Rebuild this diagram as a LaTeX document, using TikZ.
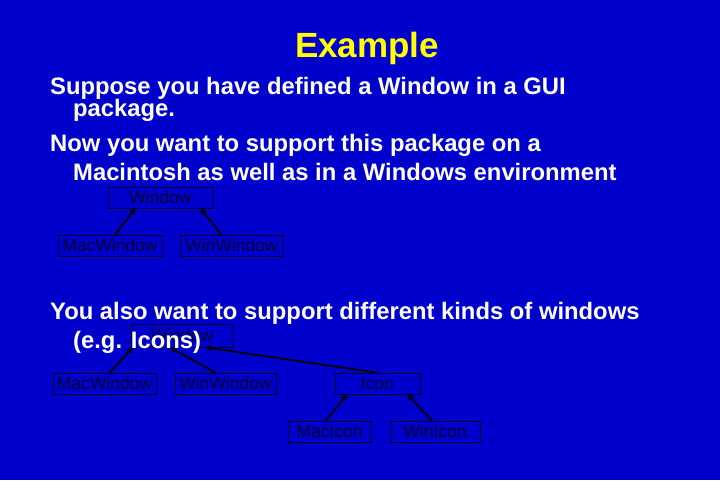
\documentclass[tikz,border=0pt]{standalone}
\usepackage{fontspec}
\setmainfont{Liberation Sans}
\usetikzlibrary{arrows.meta}
\definecolor{slidebg}{RGB}{0,0,205}
\definecolor{slidetitle}{RGB}{255,255,0}
\definecolor{boxtext}{RGB}{0,0,50}
\tikzset{
  cls/.style={draw=black!85!blue,semithick,minimum height=21pt,inner sep=1pt,
    text=boxtext,font=\fontsize{17.5}{17.5}\selectfont},
  inh/.style={line width=2pt,draw=black!90!blue,-{Triangle[length=6pt,width=6pt]}},
  para/.style={anchor=base west,text=white,inner sep=0pt,
    font=\fontsize{23.8}{23.8}\bfseries\selectfont}
}
\begin{document}
\begin{tikzpicture}[x=1pt,y=-1pt]
\fill[slidebg] (0,0) rectangle (720,480);
\useasboundingbox (0,0) rectangle (720,480);
\node[text=slidetitle,font=\fontsize{35}{35}\bfseries\selectfont] (title) at (367,48) {Example};
% first paragraph
\node[para] (l1) at (50,94) {Suppose you have defined a Window in a GUI};
\node[para] (l2) at (73,116) {package.};
\node[para] (l3) at (50,151) {Now you want to support this package on a};
\node[para] (l4) at (73,180) {Macintosh as well as in a Windows environment};
% first tree
\node[cls,minimum width=105pt] (win) at (160.5,197.5) {Window};
\node[cls,minimum width=104pt] (macwin) at (110,245.5) {MacWindow};
\node[cls,minimum width=103pt] (winwin) at (231.5,245.5) {WinWindow};
\draw[inh] ([xshift=5pt]macwin.north) -- ([xshift=-25pt]win.south);
\draw[inh] ([xshift=-10pt]winwin.north) -- ([xshift=40pt]win.south);
% second tree
\node[cls,minimum width=102pt,minimum height=23pt] (win2) at (182,335.5) {Window};
\node[cls,minimum width=103pt] (macwin2) at (104.5,383.5) {MacWindow};
\node[cls,minimum width=101pt] (winwin2) at (225.5,383.5) {WinWindow};
\node[cls,minimum width=85pt] (icon) at (377.5,383.5) {Icon};
\node[cls,minimum width=83pt] (macicon) at (329.5,431.5) {MacIcon};
\node[cls,minimum width=90pt] (winicon) at (435,431.5) {WinIcon};
\draw[inh] ([xshift=5pt]macwin2.north) -- ([xshift=-49pt]win2.south);
\draw[inh] ([xshift=-10pt]winwin2.north) -- ([xshift=-12pt]win2.south);
\draw[inh] (icon.north) -- ([xshift=23pt]win2.south);
\draw[inh] ([xshift=-4pt]macicon.north) -- ([xshift=-30pt]icon.south);
\draw[inh] ([xshift=-3pt]winicon.north) -- ([xshift=30pt]icon.south);
% second paragraph, over the tree
\node[para] (l5) at (50,319) {You also want to support different kinds of windows};
\node[para] (l6) at (73,348) {(e.g. Icons)};
\end{tikzpicture}
\end{document}
